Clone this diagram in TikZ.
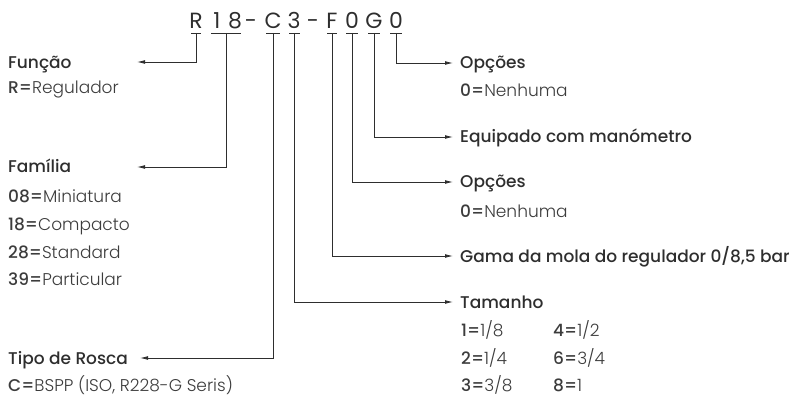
\documentclass[tikz,border=0pt]{standalone}
\usepackage{fontspec}
\setmainfont{Poppins}
\newfontfamily\lightf{Poppins Light}
\newfontfamily\medf{Poppins Medium}
\usetikzlibrary{arrows.meta}
\definecolor{ink}{HTML}{2E2E2E}
\definecolor{val}{HTML}{3C3C3C}
\begin{document}
\begin{tikzpicture}[x=1pt,y=-1pt,
  code/.style={inner sep=0pt,anchor=base,font=\fontsize{22}{24}\selectfont,text=ink},
  ttl/.style={inner sep=0pt,anchor=west,font=\medf\fontsize{17}{20}\selectfont,text=ink,text height=12pt,text depth=0pt},
  vl/.style={inner sep=0pt,anchor=west,font=\lightf\fontsize{17}{20}\selectfont,text=val,text height=12pt,text depth=0pt},
  uline/.style={draw=ink,line width=0.8pt},
  conn/.style={draw=ink,line width=0.8pt,-{Latex[length=8pt,width=3.8pt]}}
]
\useasboundingbox (0,0) rectangle (800,398);
% code letters
\node[code] (cR) at (196,29) {R};
\node[code] (c1) at (217,29) {1};
\node[code] (c8) at (235,29) {8};
\node[code] (d1) at (251,29) {-};
\node[code] (cC) at (273,29) {C};
\node[code] (c3) at (294,29) {3};
\node[code] (d2) at (313,29) {-};
\node[code] (cF) at (332,29) {F};
\node[code] (c0a) at (352,29) {0};
\node[code] (cG) at (374,29) {G};
\node[code] (c0b) at (396,29) {0};
% underlines
\coordinate (uR) at (196,33);
\coordinate (u18) at (226,33);
\coordinate (uC) at (273,33);
\coordinate (u3) at (294,33);
\coordinate (uF) at (332,33);
\coordinate (u0a) at (352,33);
\coordinate (uG) at (374,33);
\coordinate (u0b) at (396,33);
\draw[uline] (191,33) -- (201,33);
\draw[uline] (211,33) -- (241,33);
\draw[uline] (266,33) -- (280,33);
\draw[uline] (289,33) -- (300,33);
\draw[uline] (327,33) -- (337,33);
\draw[uline] (346,33) -- (358,33);
\draw[uline] (368,33) -- (380,33);
\draw[uline] (390,33) -- (402,33);
% arrow end points
\coordinate (aFun) at (137,62);
\coordinate (aFam) at (137,167);
\coordinate (aTip) at (140,358);
\coordinate (aTam) at (453,302);
\coordinate (aGam) at (453,256);
\coordinate (aOp2) at (453,182);
\coordinate (aEq) at (453,137);
\coordinate (aOp1) at (453,63);
% connectors
\draw[conn] (uR) |- (aFun);
\draw[conn] (u18) |- (aFam);
\draw[conn] (uC) |- (aTip);
\draw[conn] (u3) |- (aTam);
\draw[conn] (uF) |- (aGam);
\draw[conn] (u0a) |- (aOp2);
\draw[conn] (uG) |- (aEq);
\draw[conn] (u0b) |- (aOp1);
% left texts
\node[ttl] (tFun) at (8,63) {Função};
\node[vl] (vFun) at (8,88) {{\medf R=}Regulador};
\node[ttl] (tFam) at (8,167) {Família};
\node[vl] (vFam1) at (8,197) {{\medf 08=}Miniatura};
\node[vl] (vFam2) at (8,224) {{\medf 18=}Compacto};
\node[vl] (vFam3) at (8,252) {{\medf 28=}Standard};
\node[vl] (vFam4) at (8,279) {{\medf 39=}Particular};
\node[ttl] (tTip) at (8,358) {Tipo de Rosca};
\node[vl] (vTip) at (8,385) {{\medf C=}BSPP (ISO, R228-G Seris)};
% right texts
\node[ttl] (tOp1) at (460,63) {Opções};
\node[vl] (vOp1) at (460,91) {{\medf 0=}Nenhuma};
\node[ttl] (tEq) at (460,137) {Equipado com manómetro};
\node[ttl] (tOp2) at (460,182) {Opções};
\node[vl] (vOp2) at (460,211) {{\medf 0=}Nenhuma};
\node[ttl] (tGam) at (460,256) {Gama da mola do regulador 0/8,5 bar};
\node[ttl] (tTam) at (460,302) {Tamanho};
\node[vl] (vT1) at (461,330) {{\medf 1=}1/8};
\node[vl] (vT2) at (461,358) {{\medf 2=}1/4};
\node[vl] (vT3) at (461,385) {{\medf 3=}3/8};
\node[vl] (vT4) at (553,330) {{\medf 4=}1/2};
\node[vl] (vT5) at (553,358) {{\medf 6=}3/4};
\node[vl] (vT6) at (553,385) {{\medf 8=}1};
\end{tikzpicture}
\end{document}
